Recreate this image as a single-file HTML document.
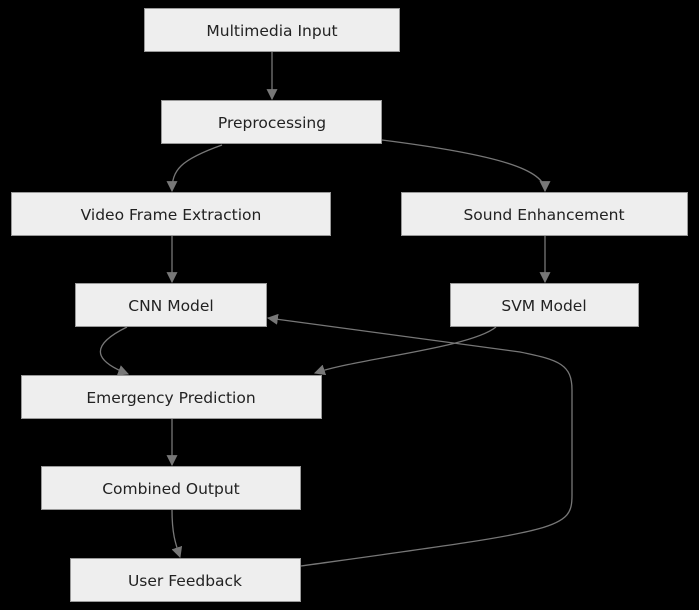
<!DOCTYPE html>
<html><head><meta charset="utf-8"><style>
html,body{margin:0;padding:0;background:#000;}
svg{display:block;}
text{font-family:"DejaVu Sans","Liberation Sans",sans-serif;font-size:15.5px;fill:#222;text-anchor:middle;dominant-baseline:central;}
.b{fill:#eeeeee;stroke:#999;stroke-width:1;}
.e{fill:none;stroke:#777;stroke-width:1.3;}
</style></head><body>
<svg width="699" height="610" viewBox="0 0 699 610">
<defs><marker id="a" viewBox="0 0 10 10" refX="9" refY="5" markerWidth="7" markerHeight="7" orient="auto-start-reverse" markerUnits="userSpaceOnUse"><path d="M0,0 L10,5 L0,10 z" fill="#777"/></marker>
<marker id="m" viewBox="0 0 10 10" refX="9" refY="5" markerWidth="11" markerHeight="11" orient="auto" markerUnits="userSpaceOnUse"><path d="M0,0 L10,5 L0,10 z" fill="#777"/></marker></defs>
<path class="e" d="M272,52 L272,99" marker-end="url(#m)"/>
<path class="e" d="M222,145 C180,160 172,170 172,191" marker-end="url(#m)"/>
<path class="e" d="M382,140 C500,155 545,170 545,191" marker-end="url(#m)"/>
<path class="e" d="M172,236 L172,282" marker-end="url(#m)"/>
<path class="e" d="M545,236 L545,282" marker-end="url(#m)"/>
<path class="e" d="M127,327 C80,350 105,365 128,374" marker-end="url(#m)"/>
<path class="e" d="M496,327 C470,348 360,358 315,373" marker-end="url(#m)"/>
<path class="e" d="M172,419 L172,465" marker-end="url(#m)"/>
<path class="e" d="M172,510 C172,535 176,545 180,557" marker-end="url(#m)"/>
<path class="e" d="M301,566 C560,530 572,530 572,495 L572,390 C572,365 560,360 520,352 L268,318" marker-end="url(#m)"/>
<rect class="b" x="144.5" y="8.5" width="255" height="43"/><text x="272" y="31">Multimedia Input</text>
<rect class="b" x="161.5" y="100.5" width="220" height="43"/><text x="272" y="123">Preprocessing</text>
<rect class="b" x="11.5" y="192.5" width="319" height="43"/><text x="171" y="215">Video Frame Extraction</text>
<rect class="b" x="401.5" y="192.5" width="286" height="43"/><text x="544" y="215">Sound Enhancement</text>
<rect class="b" x="75.5" y="283.5" width="191" height="43"/><text x="171" y="306">CNN Model</text>
<rect class="b" x="450.5" y="283.5" width="188" height="43"/><text x="544" y="306">SVM Model</text>
<rect class="b" x="21.5" y="375.5" width="300" height="43"/><text x="171" y="398">Emergency Prediction</text>
<rect class="b" x="41.5" y="466.5" width="259" height="43"/><text x="171" y="489">Combined Output</text>
<rect class="b" x="70.5" y="558.5" width="230" height="43"/><text x="185" y="581">User Feedback</text>
</svg>
</body></html>
